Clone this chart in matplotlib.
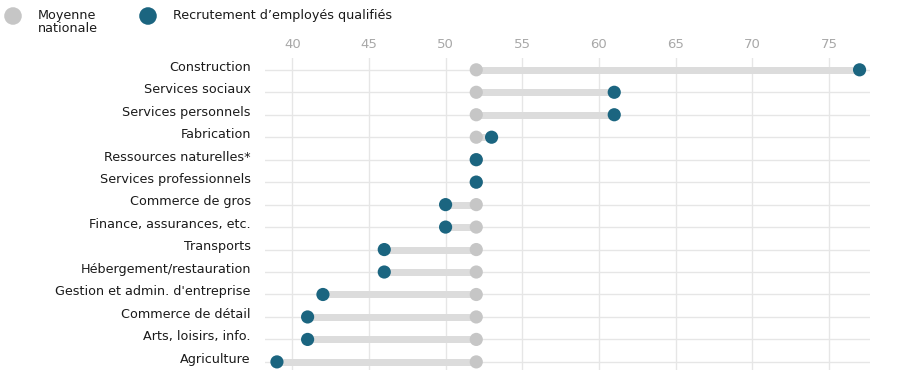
import matplotlib.pyplot as plt
from matplotlib.transforms import ScaledTranslation

# secteurs, du haut vers le bas
secteurs = ["Construction", "Services sociaux", "Services personnels", "Fabrication",
            "Ressources naturelles*", "Services professionnels", "Commerce de gros",
            "Finance, assurances, etc.", "Transports", "Hébergement/restauration",
            "Gestion et admin. d'entreprise", "Commerce de détail", "Arts, loisirs, info.",
            "Agriculture"]
recrutement = [77, 61, 61, 53, 52, 52, 50, 50, 46, 46, 42, 41, 41, 39]
moyenne = [52] * len(secteurs)
xticks = [40, 45, 50, 55, 60, 65, 70, 75]

bleu = "#1b6580"
gris = "#c6c6c6"
W, H = 919, 376

fig = plt.figure(figsize=(W / 100, H / 100), dpi=100)
ax = fig.add_axes([0.288, 0.016, 0.659, 0.83])

rows = list(range(len(secteurs)))
for i in rows:
    ax.plot([moyenne[i], recrutement[i]], [i, i], color="#dcdcdc", lw=5,
            solid_capstyle="butt", zorder=2)
ax.scatter(moyenne, rows, s=90, color=gris, zorder=3, edgecolors="none")
ax.scatter(recrutement, rows, s=90, color=bleu, zorder=4, edgecolors="none")

ax.set_xlim(38.2, 77.7)
ax.set_ylim(len(secteurs) - 0.64, -0.53)
ax.xaxis.tick_top()
ax.set_xticks(xticks)
ax.tick_params(axis="x", length=0, labelsize=9.5, labelcolor="#a8a8a8", pad=5)
ax.set_yticks(rows)
ax.set_yticklabels(secteurs)
ax.tick_params(axis="y", length=0, labelsize=9.2, labelcolor="#1a1a1a", pad=10)
up = ScaledTranslation(0, 3 / 72, fig.dpi_scale_trans)
for lbl in ax.get_yticklabels():
    lbl.set_transform(lbl.get_transform() + up)

ax.grid(True, color="#e6e6e6", lw=1)
ax.set_axisbelow(True)
for s in ax.spines.values():
    s.set_visible(False)

# légende dessinée à la main en haut à gauche (coordonnées en pixels)
lax = fig.add_axes([0, 0, 1, 1], zorder=-1)
lax.set_xlim(0, W)
lax.set_ylim(H, 0)
lax.axis("off")
lax.scatter([13], [16], s=160, color=gris, edgecolors="none")
lax.scatter([148], [16], s=160, color=bleu, edgecolors="none")
lax.text(38, 9, "Moyenne\nnationale", fontsize=9.2, va="top", ha="left",
         color="#1a1a1a", linespacing=1.0)
lax.text(173, 16, "Recrutement d\u2019employés qualifiés", fontsize=9.2, va="center",
         ha="left", color="#1a1a1a")

fig.savefig("out.png", dpi=100)
